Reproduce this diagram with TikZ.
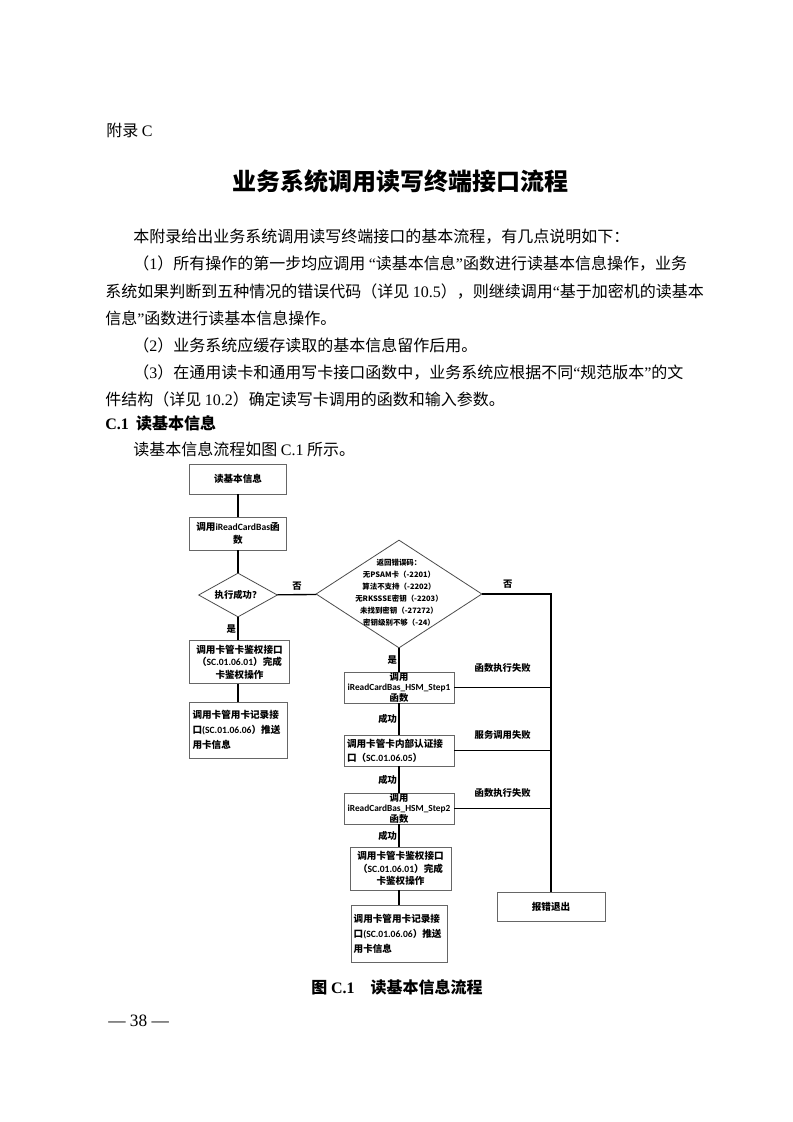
\documentclass[tikz,border=0pt]{standalone}
\usepackage{fontspec}
\setmainfont{Liberation Serif}
\newfontfamily\cjk{Noto Sans CJK SC}
\newfontfamily\lat{Carlito}
\newcommand{\en}[1]{{\rmfamily #1}}
\newcommand{\cb}[1]{{\lat #1}}
\usetikzlibrary{shapes.geometric}
\usetikzlibrary{positioning}
\tikzset{
    mybox/.style = {rectangle, draw=black!60, line width=0.6pt, fill=white, align=center, inner sep=1pt, font=\cjk\bfseries\fontsize{7.2}{9.4}\selectfont, text=black},
    myboxl/.style = {mybox, align=left},
    mydiam/.style = {diamond, draw=black!70, line width=0.6pt, fill=white, inner sep=0pt},
    dtext/.style = {align=center, inner sep=0pt, font=\cjk\bfseries\fontsize{5.6}{9}\selectfont},
    flab/.style = {inner sep=1pt, font=\cjk\bfseries\fontsize{7}{8}\selectfont},
    edgen/.style = {-, line width=1pt, black},
    bodytxt/.style = {anchor=west, inner sep=0pt, font=\cjk\fontsize{12}{14}\selectfont},
    bodytxtb/.style = {bodytxt, font=\cjk\bfseries\fontsize{12}{14}\selectfont}
}

\begin{document}
\begin{tikzpicture}[x=0.75pt,y=-0.75pt]
\fill[white] (0,0) rectangle (793,1122);
\useasboundingbox (0,0) rectangle (793,1122);
%
% page text
\node[bodytxt] at (106,130) (appx) {附录 \en{C}};
\node[bodytxtb,anchor=center,font=\cjk\bfseries\fontsize{18}{20}\selectfont] at (400,181) (title) {业务系统调用读写终端接口流程};
\node[bodytxt] at (133,237) (p1) {本附录给出业务系统调用读写终端接口的基本流程，有几点说明如下：};
\node[bodytxt] at (133,264) (p2) {（\en{1}）所有操作的第一步均应调用 \en{“}读基本信息\en{”}函数进行读基本信息操作，业务};
\node[bodytxt] at (105,291) (p3) {系统如果判断到五种情况的错误代码（详见 \en{10.5}），则继续调用\en{“}基于加密机的读基本};
\node[bodytxt] at (105,318) (p4) {信息\en{”}函数进行读基本信息操作。};
\node[bodytxt] at (133,345) (p5) {（\en{2}）业务系统应缓存读取的基本信息留作后用。};
\node[bodytxt] at (133,372) (p6) {（\en{3}）在通用读卡和通用写卡接口函数中，业务系统应根据不同\en{“}规范版本\en{”}的文};
\node[bodytxt] at (105,399) (p7) {件结构（详见 \en{10.2}）确定读写卡调用的函数和输入参数。};
\node[bodytxtb] at (105,423) (sec) {\en{\bfseries C.1}\ \ 读基本信息};
\node[bodytxt] at (133,449) (p8) {读基本信息流程如图 \en{C.1} 所示。};
%
% left column
\node[mybox,minimum width=72.75pt,minimum height=22.5pt] at (238,479) (read) {读基本信息};
\node[mybox,minimum width=72.75pt,minimum height=24.75pt] at (238,533.5) (call) {调用\cb{iReadCardBas}函\\数};
\node[mydiam,minimum width=59.25pt,minimum height=33pt,label={[dtext,font=\cjk\bfseries\fontsize{7}{8}\selectfont]center:执行成功？}] at (238,595) (exec) {};
\node[mybox,minimum width=75pt,minimum height=32.25pt] at (239.5,662) (auth1) {调用卡管卡鉴权接口\\（\cb{SC.01.06.01}）完成\\卡鉴权操作};
\node[myboxl,minimum width=73.5pt,minimum height=42pt,text width=69pt,font=\cjk\bfseries\fontsize{7.2}{11.25}\selectfont] at (238.5,730) (rec1) {调用卡管用卡记录接\\口\cb{(SC.01.06.06}）推送\\用卡信息};
%
% right column
\node[mydiam,minimum width=124.5pt,minimum height=81pt] at (399,594) (errc) {};
\node[dtext] at (399,593) (errct) {返回错误码：\\无PSAM卡（-2201）\\算法不支持（-2202）\\无RKSSSE密钥（-2203）\\未找到密钥（-27272）\\密钥级别不够（-24）};
\node[mybox,minimum width=82.5pt,minimum height=23.25pt,inner sep=0pt,font=\cjk\bfseries\fontsize{7}{7.8}\selectfont] at (399,687.5) (step1) {调用\\\cb{iReadCardBas\_HSM\_Step1}\\函数};
\node[myboxl,minimum width=82.5pt,minimum height=23.25pt,text width=78pt,font=\cjk\bfseries\fontsize{7.2}{10.5}\selectfont] at (399,750.5) (inner) {调用卡管卡内部认证接\\口（\cb{SC.01.06.05}）};
\node[mybox,minimum width=82.5pt,minimum height=23.25pt,inner sep=0pt,font=\cjk\bfseries\fontsize{7}{7.8}\selectfont] at (399,808.5) (step2) {调用\\\cb{iReadCardBas\_HSM\_Step2}\\函数};
\node[mybox,minimum width=75.75pt,minimum height=32.25pt] at (400.5,868.5) (auth2) {调用卡管卡鉴权接口\\（\cb{SC.01.06.01}）完成\\卡鉴权操作};
\node[myboxl,minimum width=72pt,minimum height=42.75pt,text width=68pt,font=\cjk\bfseries\fontsize{7.2}{11.25}\selectfont] at (399,933.5) (rec2) {调用卡管用卡记录接\\口\cb{(SC.01.06.06}）推送\\用卡信息};
\node[mybox,minimum width=81pt,minimum height=21.75pt] at (551,907) (quit) {报错退出};
\coordinate (turn) at (551,594);
%
\draw[edgen] (read) edge (call);
\draw[edgen] (call) edge (exec);
\draw[edgen] (exec) edge node[flab,left] {是} (exec |- auth1.north);
\draw[edgen] (auth1.south -| exec) edge (exec |- rec1.north);
\draw[edgen] (exec) edge node[flab,above=2pt] {否} (errc);
\draw[edgen] (errc) edge node[flab,left] {是} (step1);
\draw[edgen] (step1) edge node[flab,left] {成功} (inner);
\draw[edgen] (inner) edge node[flab,left] {成功} (step2);
\draw[edgen] (step2) edge node[flab,left] {成功} (auth2.north -| step2);
\draw[edgen] (auth2.south -| step2) edge (rec2);
\draw[edgen] (errc.east) -- node[flab,above=3pt,pos=0.37] {否} (turn) -- (quit);
\draw[edgen] (step1) -- node[flab,above=10pt] {函数执行失败} (step1 -| turn);
\draw[edgen] (inner) -- node[flab,above=7pt] {服务调用失败} (inner -| turn);
\draw[edgen] (step2) -- node[flab,above=7pt] {函数执行失败} (step2 -| turn);
%
% caption and page number
\node[bodytxtb,anchor=center] at (397,987) (cap) {图 \en{C.1}\hspace{1em}读基本信息流程};
\node[bodytxt,font=\rmfamily\fontsize{13}{15}\selectfont] at (108,1021) (pnum) {— 38 —};

\end{tikzpicture}
\end{document}
